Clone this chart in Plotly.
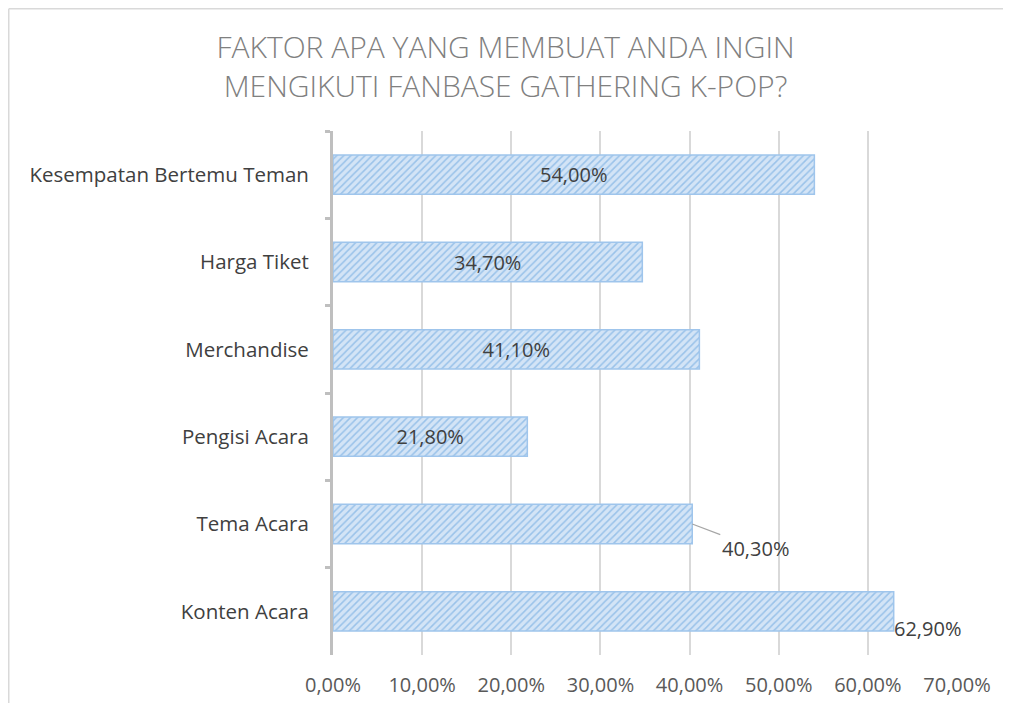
import plotly.graph_objects as go

categories = ["Kesempatan Bertemu Teman", "Harga Tiket", "Merchandise",
              "Pengisi Acara", "Tema Acara", "Konten Acara"]
values = [54.0, 34.7, 41.1, 21.8, 40.3, 62.9]
tick_values = [0, 10, 20, 30, 40, 50, 60, 70]
title_text = "FAKTOR APA YANG MEMBUAT ANDA INGIN<br>MENGIKUTI FANBASE GATHERING K-POP?"

def pct(v):
    return f"{v:.2f}%".replace(".", ",")

tick_text = [pct(v) for v in tick_values]
inside_mask = [True, True, True, True, False, False]
inside_text = [pct(v) if m else "" for v, m in zip(values, inside_mask)]

FONT = "Open Sans"

fig = go.Figure()
fig.add_trace(go.Bar(
    x=values, y=categories, orientation="h",
    text=inside_text, textposition="inside", insidetextanchor="middle",
    textfont=dict(family=FONT, size=20, color="#404040"),
    marker=dict(color="#d3e4f6",
                line=dict(color="#9fc5ec", width=1.5),
                pattern=dict(shape="/", fgcolor="#5f9fdc", bgcolor="#d3e4f6",
                             size=5, solidity=0.3)),
    width=0.45, cliponaxis=False, hoverinfo="skip",
))

tema_i = categories.index("Tema Acara")
fig.add_annotation(x=values[tema_i], y=categories[tema_i], text=pct(values[tema_i]),
                   showarrow=True, arrowhead=0, arrowcolor="#a6a6a6", arrowwidth=1.2,
                   ax=63, ay=24, font=dict(family=FONT, size=20, color="#404040"))
konten_i = categories.index("Konten Acara")
fig.add_annotation(x=values[konten_i], y=categories[konten_i], text=pct(values[konten_i]),
                   showarrow=False, xanchor="left", xshift=-2, yshift=-17,
                   font=dict(family=FONT, size=20, color="#404040"))

# page body adds an 8px margin; size the figure so no scrollbars appear
L, R, T, B = 325, 46, 123, 48
W, H = 995, 695
pw, ph = W - L - R, H - T - B
x_left, x_right = -(L - 0.75) / pw, 1 + R / pw
y_top, y_bot = 1 + (T - 0.75) / ph, -B / ph
fig.add_shape(type="line", xref="paper", yref="paper", x0=x_left, x1=x_right,
              y0=y_top, y1=y_top, line=dict(color="#d9d9d9", width=1.5), layer="below")
fig.add_shape(type="line", xref="paper", yref="paper", x0=x_left, x1=x_left,
              y0=y_top, y1=y_bot, line=dict(color="#d9d9d9", width=1.5), layer="below")

fig.update_layout(
    width=W, height=H,
    margin=dict(l=L, r=R, t=T, b=B, autoexpand=False),
    paper_bgcolor="white", plot_bgcolor="white",
    showlegend=False,
    title=dict(text=title_text, x=(1011 / 2 - 8) / W, xref="container", xanchor="center",
               y=0.928, yanchor="top",
               font=dict(family=FONT, size=30, color="#808080", weight=300)),
    xaxis=dict(range=[0, 70], tickvals=tick_values, ticktext=tick_text,
               showgrid=True, gridcolor="#d9d9d9", gridwidth=2,
               zeroline=False, showline=False, ticks="", automargin=False,
               ticklabelstandoff=16,
               tickfont=dict(family=FONT, size=20, color="#595959")),
    yaxis=dict(autorange="reversed", showline=True, linecolor="#bfbfbf", linewidth=3,
               ticks="outside", tickson="boundaries", ticklen=5, tickcolor="#bfbfbf",
               tickwidth=3, showgrid=False, ticklabelstandoff=17, automargin=False,
               tickfont=dict(family=FONT, size=20.5, color="#404040")),
)

fig.write_html("out.html")
